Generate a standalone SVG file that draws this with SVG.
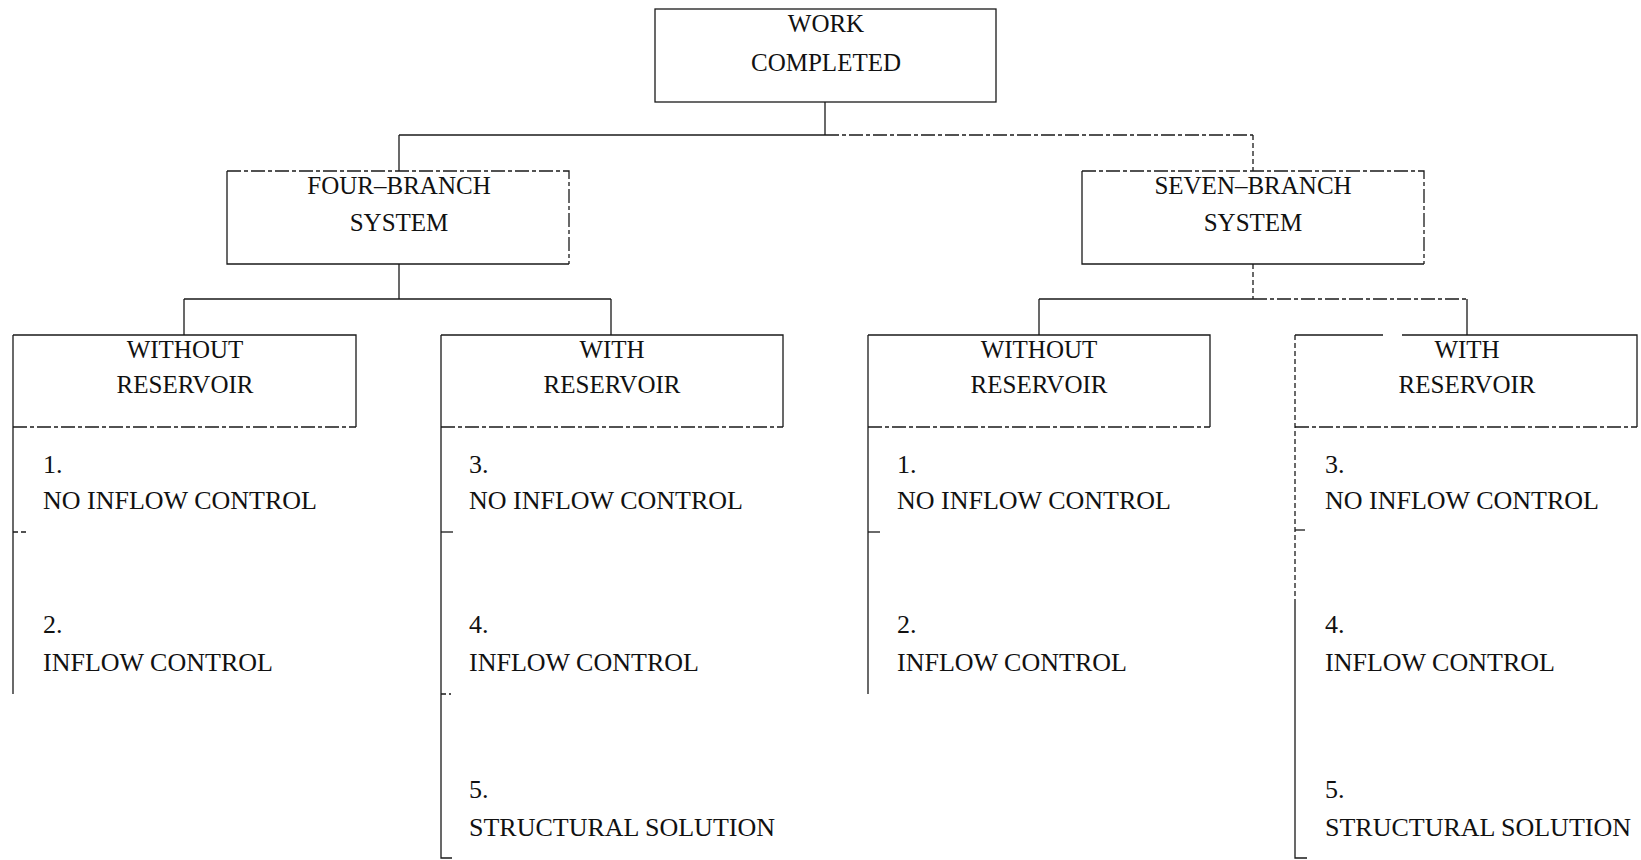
<svg xmlns="http://www.w3.org/2000/svg" width="1641" height="860" viewBox="0 0 1641 860">
<style>
.ln{stroke:#1a1a1a;stroke-width:1.3;fill:none}
.dl{stroke:#1a1a1a;stroke-width:1.3;fill:none;stroke-dasharray:14 3 4 3}
.dt{stroke:#1a1a1a;stroke-width:1.3;fill:none;stroke-dasharray:5 3}
.t{font-family:"Liberation Serif","Times New Roman",serif;font-size:25px;fill:#111;text-anchor:middle}
.l{font-family:"Liberation Serif","Times New Roman",serif;font-size:26px;fill:#111}
</style>
<rect width="1641" height="860" fill="#fff"/>
<g id="connectors">
<path class="ln" d="M825,102V135"/>
<path class="ln" d="M399,135H825"/>
<path class="dl" d="M825,135H1253"/>
<path class="ln" d="M399,135V171"/>
<path class="dt" d="M1253,135V171"/>
<path class="ln" d="M399,264V299M184,299H611M184,299V335M611,299V335"/>
<path class="dt" d="M1253,264V299"/>
<path class="ln" d="M1039,299H1253M1039,299V335M1467,299V335"/>
<path class="dl" d="M1253,299H1467"/>
</g>
<g id="work-completed">
<rect class="ln" x="655" y="9" width="341" height="93"/>
<text class="t" x="826" y="32">WORK</text>
<text class="t" x="826" y="71">COMPLETED</text>
</g>
<g id="four-branch">
<path class="dl" d="M227,171H569V264"/>
<path class="ln" d="M227,171V264H569"/>
<text class="t" x="399" y="194">FOUR–BRANCH</text>
<text class="t" x="399" y="231">SYSTEM</text>
</g>
<g id="seven-branch">
<path class="dl" d="M1082,171H1424V264"/>
<path class="ln" d="M1082,171V264H1424"/>
<text class="t" x="1253" y="194">SEVEN–BRANCH</text>
<text class="t" x="1253" y="231">SYSTEM</text>
</g>
<g id="four-without">
<path class="ln" d="M13,335H356V427"/>
<path class="dl" d="M13,427H356"/>
<path class="ln" d="M13,335V694"/>
<path class="dt" d="M13,532H26"/>
<text class="t" x="185" y="358">WITHOUT</text>
<text class="t" x="185" y="393">RESERVOIR</text>
<text class="l" x="43" y="473">1.</text>
<text class="l" x="43" y="509">NO INFLOW CONTROL</text>
<text class="l" x="43" y="633">2.</text>
<text class="l" x="43" y="671">INFLOW CONTROL</text>
</g>
<g id="four-with">
<path class="ln" d="M441,335H783V427"/>
<path class="dl" d="M441,427H783"/>
<path class="ln" d="M441,335V858H452"/>
<path class="ln" d="M441,532H453"/>
<path class="dt" d="M441,694H451"/>
<text class="t" x="612" y="358">WITH</text>
<text class="t" x="612" y="393">RESERVOIR</text>
<text class="l" x="469" y="473">3.</text>
<text class="l" x="469" y="509">NO INFLOW CONTROL</text>
<text class="l" x="469" y="633">4.</text>
<text class="l" x="469" y="671">INFLOW CONTROL</text>
<text class="l" x="469" y="798">5.</text>
<text class="l" x="469" y="836">STRUCTURAL SOLUTION</text>
</g>
<g id="seven-without">
<path class="ln" d="M868,335H1210V427"/>
<path class="dl" d="M868,427H1210"/>
<path class="ln" d="M868,335V694"/>
<path class="ln" d="M868,532H880"/>
<text class="t" x="1039" y="358">WITHOUT</text>
<text class="t" x="1039" y="393">RESERVOIR</text>
<text class="l" x="897" y="473">1.</text>
<text class="l" x="897" y="509">NO INFLOW CONTROL</text>
<text class="l" x="897" y="633">2.</text>
<text class="l" x="897" y="671">INFLOW CONTROL</text>
</g>
<g id="seven-with">
<path class="ln" d="M1295,335H1383M1402,335H1637V427"/>
<path class="dl" d="M1295,427H1637"/>
<path class="dt" d="M1295,335V600"/>
<path class="ln" d="M1295,600V858H1307"/>
<path class="ln" d="M1295,530H1305"/>
<text class="t" x="1467" y="358">WITH</text>
<text class="t" x="1467" y="393">RESERVOIR</text>
<text class="l" x="1325" y="473">3.</text>
<text class="l" x="1325" y="509">NO INFLOW CONTROL</text>
<text class="l" x="1325" y="633">4.</text>
<text class="l" x="1325" y="671">INFLOW CONTROL</text>
<text class="l" x="1325" y="798">5.</text>
<text class="l" x="1325" y="836">STRUCTURAL SOLUTION</text>
</g>
</svg>
